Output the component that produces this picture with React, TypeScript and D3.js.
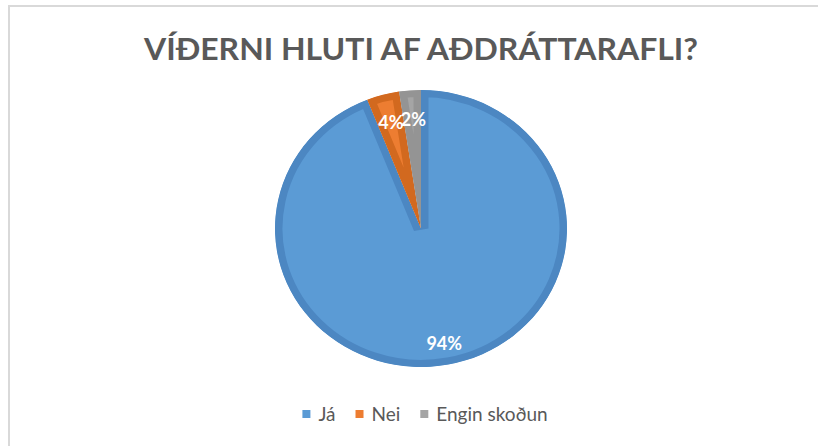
import React from 'react';
import * as d3 from 'd3';

// chart data
const categories = ['Já', 'Nei', 'Engin skoðun'];
const shares = [94, 3.6, 2.4];
const fills = ['#5b9bd5', '#ed7d31', '#a5a5a5'];
const edges = ['#4c87c2', '#d2691f', '#949494'];
const title = 'VÍÐERNI HLUTI AF AÐDRÁTTARAFLI?';

const W = 818;
const H = 446;
const cx = 421;
const cy = 228.5;
const rx = 146;
const ry = 138.5;
const font = 'Lato, "Open Sans", sans-serif';

const measure = (txt: string, size: number) => {
    const ctx = document.createElement('canvas').getContext('2d');
    if (!ctx) return txt.length * size * 0.5;
    ctx.font = `${size}px Lato`;
    return ctx.measureText(txt).width;
};

const App = () => {
    const total = d3.sum(shares);
    const pie = d3
        .pie<number>()
        .sort(null)
        .value((d) => d);
    const arcs = pie(shares);
    const arc = d3.arc<d3.PieArcDatum<number>>().innerRadius(0).outerRadius(rx);

    // legend layout
    const legendSize = 19;
    const box = 8;
    const gap = 20;
    const widths = categories.map((c) => box + 8 + measure(c, legendSize));
    const legendW = d3.sum(widths) + gap * (categories.length - 1);
    let lx = cx - legendW / 2 + 4;
    const legendX = widths.map((w) => {
        const x = lx;
        lx += w + gap;
        return x;
    });

    return (
        <svg width={W} height={H} style={{ position: 'absolute', left: 0, top: 0, background: '#fff' }}>
            <defs>
                {arcs.map((a, i) => (
                    <clipPath id={`clip-${i}`} key={i}>
                        <path d={arc(a) || ''} />
                    </clipPath>
                ))}
            </defs>

            {/* chart frame */}
            <path d={`M9,${H} V6 H${W}`} fill="none" stroke="#d9d9d9" strokeWidth={2} />

            <text
                x={cx}
                y={60}
                textAnchor="middle"
                textLength={554}
                lengthAdjust="spacingAndGlyphs"
                fontFamily={font}
                fontWeight={700}
                fontSize={30}
                fill="#595959"
            >
                {title}
            </text>

            <g transform={`translate(${cx},${cy}) scale(1,${ry / rx})`}>
                {arcs.map((a, i) => (
                    <path
                        key={i}
                        d={arc(a) || ''}
                        fill={fills[i]}
                        stroke={edges[i]}
                        strokeWidth={15}
                        clipPath={`url(#clip-${i})`}
                    />
                ))}
            </g>

            {arcs.map((a, i) => {
                const mid = (a.startAngle + a.endAngle) / 2;
                const f = i === 0 ? 0.85 : 0.79;
                return (
                    <text
                        key={i}
                        x={cx + rx * f * Math.sin(mid) + (i === 2 ? 1 : 0)}
                        y={cy - ry * f * Math.cos(mid)}
                        dy="0.35em"
                        textAnchor="middle"
                        fontFamily={font}
                        fontWeight={700}
                        fontSize={18}
                        fill="#fff"
                    >
                        {`${Math.round((shares[i] / total) * 100)}%`}
                    </text>
                );
            })}

            {categories.map((c, i) => (
                <g key={c} transform={`translate(${legendX[i]},0)`}>
                    <rect x={0} y={410} width={box} height={box} fill={fills[i]} />
                    <text x={box + 8} y={420.5} fontFamily={font} fontSize={legendSize} fill="#595959">
                        {c}
                    </text>
                </g>
            ))}
        </svg>
    );
};

export default App;
